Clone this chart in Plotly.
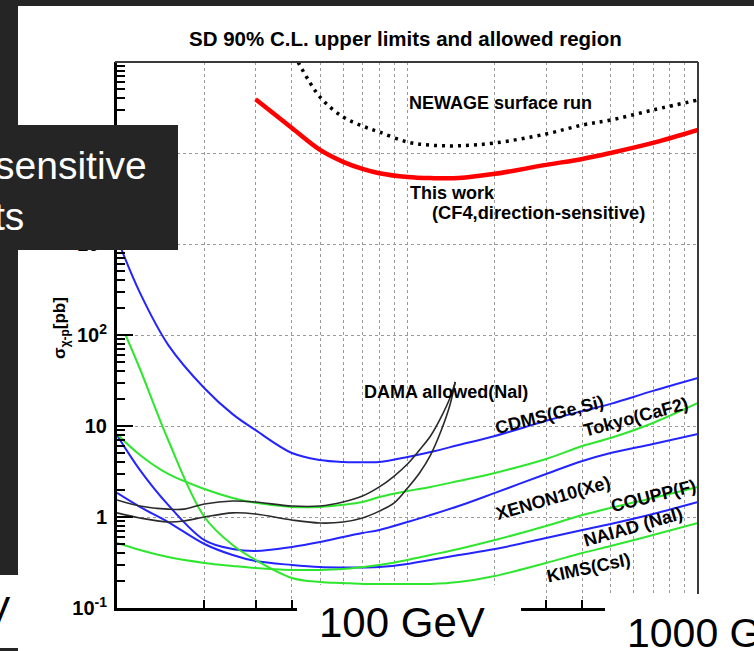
import plotly.graph_objects as go

# ---------------- data (mass in GeV, cross-section in pb) ----------------
newage_mass = [42, 50, 60, 70, 80, 100, 120, 150, 200, 300, 400, 500, 700, 1000]
newage_sigma = [1.0e5, 41200, 24900, 19800, 17000, 13200, 12200, 12000, 12900, 16200, 20300, 23000, 29700, 38200]

this_mass = [30, 40, 50, 60, 70, 80, 100, 120, 150, 200, 300, 400, 500, 700, 1000]
this_sigma = [39000, 18800, 10800, 8000, 6700, 6000, 5450, 5300, 5300, 5900, 7400, 8600, 10000, 12900, 17900]

mass = [10, 12, 15, 20, 25, 30, 40, 50, 60, 70, 80, 100, 120, 150, 200, 300, 400, 500, 700, 1000]
cdms_sigma = [1160, 290, 78, 26, 13.5, 9.0, 5.05, 4.23, 4.02, 4.0, 4.02, 4.56, 5.18, 6.18, 7.76, 11.4, 14.6, 17.5, 24.3, 33.7]
tokyo_sigma = [8.17, 4.80, 2.97, 2.03, 1.62, 1.43, 1.29, 1.29, 1.36, 1.46, 1.66, 1.93, 2.14, 2.49, 3.05, 4.34, 6.03, 7.38, 10.8, 17.9]
xenon_sigma = [7.96, 3.28, 1.36, 0.558, 0.445, 0.423, 0.468, 0.531, 0.603, 0.667, 0.72, 0.881, 1.05, 1.32, 1.84, 2.97, 4.12, 5.05, 6.34, 8.17]
naiad_sigma = [1.84, 1.29, 0.881, 0.505, 0.382, 0.328, 0.297, 0.282, 0.279, 0.279, 0.282, 0.305, 0.337, 0.382, 0.445, 0.588, 0.72, 0.838, 1.08, 1.46]
coupp_sigma = [0.518, 0.434, 0.363, 0.313, 0.29, 0.275, 0.262, 0.262, 0.268, 0.282, 0.297, 0.337, 0.382, 0.445, 0.558, 0.796, 1.05, 1.26, 1.62, 2.14]

kims_mass = [10.7, 12, 15, 20, 25, 30, 40, 50, 60, 70, 80, 100, 120, 150, 200, 300, 400, 500, 700, 1000]
kims_sigma = [100, 42.3, 7.02, 1.0, 0.492, 0.337, 0.214, 0.193, 0.188, 0.184, 0.184, 0.184, 0.184, 0.193, 0.225, 0.313, 0.402, 0.48, 0.634, 0.859]

dama_mass = [10, 12, 15, 17, 20, 25, 30, 40, 50, 60, 70, 80, 90, 100, 110, 120, 130, 140, 146]
dama_upper = [1.54, 1.32, 1.22, 1.22, 1.39, 1.50, 1.46, 1.32, 1.32, 1.46, 1.70, 2.14, 2.82, 3.82, 5.45, 7.76, 12.2, 20.3, 30.5]
dama_lower = [1.11, 0.975, 0.881, 0.904, 1.0, 1.11, 1.08, 0.927, 0.859, 0.881, 0.975, 1.16, 1.43, 2.08, 3.05, 4.80, 8.59, 17.0, 30.5]

y_tickvals = [0.1, 1, 10, 100, 1000, 10000]
y_ticktext = ["10<sup>-1</sup>", "1", "10", "10<sup>2</sup>", "10<sup>3</sup>", "10<sup>4</sup>"]
x_gridvals = [20, 30, 40, 50, 60, 70, 80, 90, 100, 200, 300, 400, 500, 600, 700, 800, 900]

# ---------------- layout geometry (pixels) ----------------
W, H = 754, 651
PL, PR, PT, PB = 117, 698, 62, 608


def px(x):
    return (x - PL) / (PR - PL)


def py(y):
    return (PB - y) / (PB - PT)


BLUE = "#2424ff"
GREEN = "#2ee62e"
DAMA = "#2a2a2a"
FONT = "Liberation Sans, Arial, sans-serif"

fig = go.Figure()


def add_line(x, y, color, width, dash="solid"):
    fig.add_trace(go.Scatter(x=x, y=y, mode="lines",
                             line=dict(color=color, width=width, dash=dash, shape="spline", smoothing=1.0),
                             hoverinfo="skip"))


add_line(mass, cdms_sigma, BLUE, 2)
add_line(mass, xenon_sigma, BLUE, 2)
add_line(mass, naiad_sigma, BLUE, 2)
add_line(mass, tokyo_sigma, GREEN, 2)
add_line(mass, coupp_sigma, GREEN, 2)
add_line(kims_mass, kims_sigma, GREEN, 2)
add_line(dama_mass, dama_upper, DAMA, 1.6)
add_line(dama_mass, dama_lower, DAMA, 1.6)
add_line(this_mass, this_sigma, "#ff0000", 4.5)
add_line(newage_mass, newage_sigma, "#000000", 3.5, dash="3px,5px")

minor_y = [m * 10 ** e for e in range(-1, 5) for m in range(2, 10)]

fig.update_layout(
    width=W, height=H,
    margin=dict(l=PL, r=W - PR, t=PT, b=H - PB, pad=0),
    paper_bgcolor="white", plot_bgcolor="white",
    showlegend=False,
    font=dict(family=FONT, color="black"),
    xaxis=dict(type="log", range=[1, 3], tickmode="array", tickvals=x_gridvals,
               ticks="inside", ticklen=8, tickwidth=1.5, tickcolor="black",
               showticklabels=False, showgrid=True, gridcolor="#9a9a9a", griddash="dot", gridwidth=1,
               showline=True, linewidth=3, linecolor="black", zeroline=False),
    yaxis=dict(type="log", range=[-1, 5], tickmode="array", tickvals=y_tickvals, ticktext=y_ticktext,
               ticks="inside", ticklen=16, tickwidth=2, tickcolor="black",
               tickfont=dict(family=FONT, size=20, color="black", weight="bold"),
               ticklabelstandoff=3,
               showgrid=True, gridcolor="#9a9a9a", griddash="dot", gridwidth=1,
               minor=dict(tickmode="array", tickvals=minor_y, ticks="inside", ticklen=8,
                          tickwidth=2, tickcolor="black", showgrid=False),
               showline=True, linewidth=3, linecolor="black", zeroline=False),
)

DARK = "#252525"
shapes = []


def rect(x0, y0, x1, y1, color):
    shapes.append(dict(type="rect", xref="paper", yref="paper", layer="above",
                       x0=px(x0), x1=px(x1), y0=py(y1), y1=py(y0),
                       fillcolor=color, line=dict(width=0)))


def seg(x0, y0, x1, y1, color, width):
    shapes.append(dict(type="line", xref="paper", yref="paper", layer="above",
                       x0=px(x0), x1=px(x1), y0=py(y0), y1=py(y1),
                       line=dict(color=color, width=width)))


# frame top and right
seg(PL - 2, PT, PR, PT, "#3a3a3a", 2)
seg(PR, PT, PR, PB, "#3a3a3a", 2)
# slide background pieces
rect(0, 0, W, 6, DARK)
rect(0, 0, 18, 575, DARK)
rect(0, 648, 18, H, DARK)
rect(0, 125, 178, 250, DARK)
# white label boxes on the slide
rect(0, 575, 60, 648, "white")
rect(297, 585, 521, H, "white")
rect(605, 594, W, H, "white")
fig.update_layout(shapes=shapes)

ann = []


def text(t, x, y, size, xanchor="left", angle=0, bold=True, color="black"):
    ann.append(dict(text=t, xref="paper", yref="paper", x=px(x), y=py(y),
                    xanchor=xanchor, yanchor="middle", showarrow=False, textangle=angle,
                    font=dict(family=FONT, size=size, color=color, weight="bold" if bold else "normal")))


text("SD 90% C.L. upper limits and allowed region", 405, 39, 20.5, xanchor="center")
text("NEWAGE surface run", 407, 103, 18)
text("This work", 408, 193, 18)
text("(CF4,direction-sensitive)", 430, 212, 18.3)
text("DAMA allowed(NaI)", 362, 392, 18)
text("CDMS(Ge,Si)", 549, 415, 18, xanchor="center", angle=-14)
text("Tokyo(CaF2)", 636, 417, 18, xanchor="center", angle=-15)
text("XENON10(Xe)", 553, 498, 18, xanchor="center", angle=-16)
text("COUPP(F)", 653, 496, 18, xanchor="center", angle=-14)
text("NAIAD (NaI)", 633, 527, 18, xanchor="center", angle=-16)
text("KIMS(CsI)", 588, 568, 18, xanchor="center", angle=-12)
text("σ<sub>χ-p</sub>[pb]", 61, 328, 17, xanchor="center", angle=-90)
# slide overlay texts
text("sensitive", 149, 165, 39, xanchor="right", bold=False, color="white")
text("ts", 26, 216, 39, xanchor="right", bold=False, color="white")
text("100 GeV", 317, 622, 42, bold=False)
text("1000 G", 625, 633, 41, bold=False)
text("10 GeV", 12, 610, 39, xanchor="right", bold=False)
fig.update_layout(annotations=ann)

fig.write_html("out.html")
